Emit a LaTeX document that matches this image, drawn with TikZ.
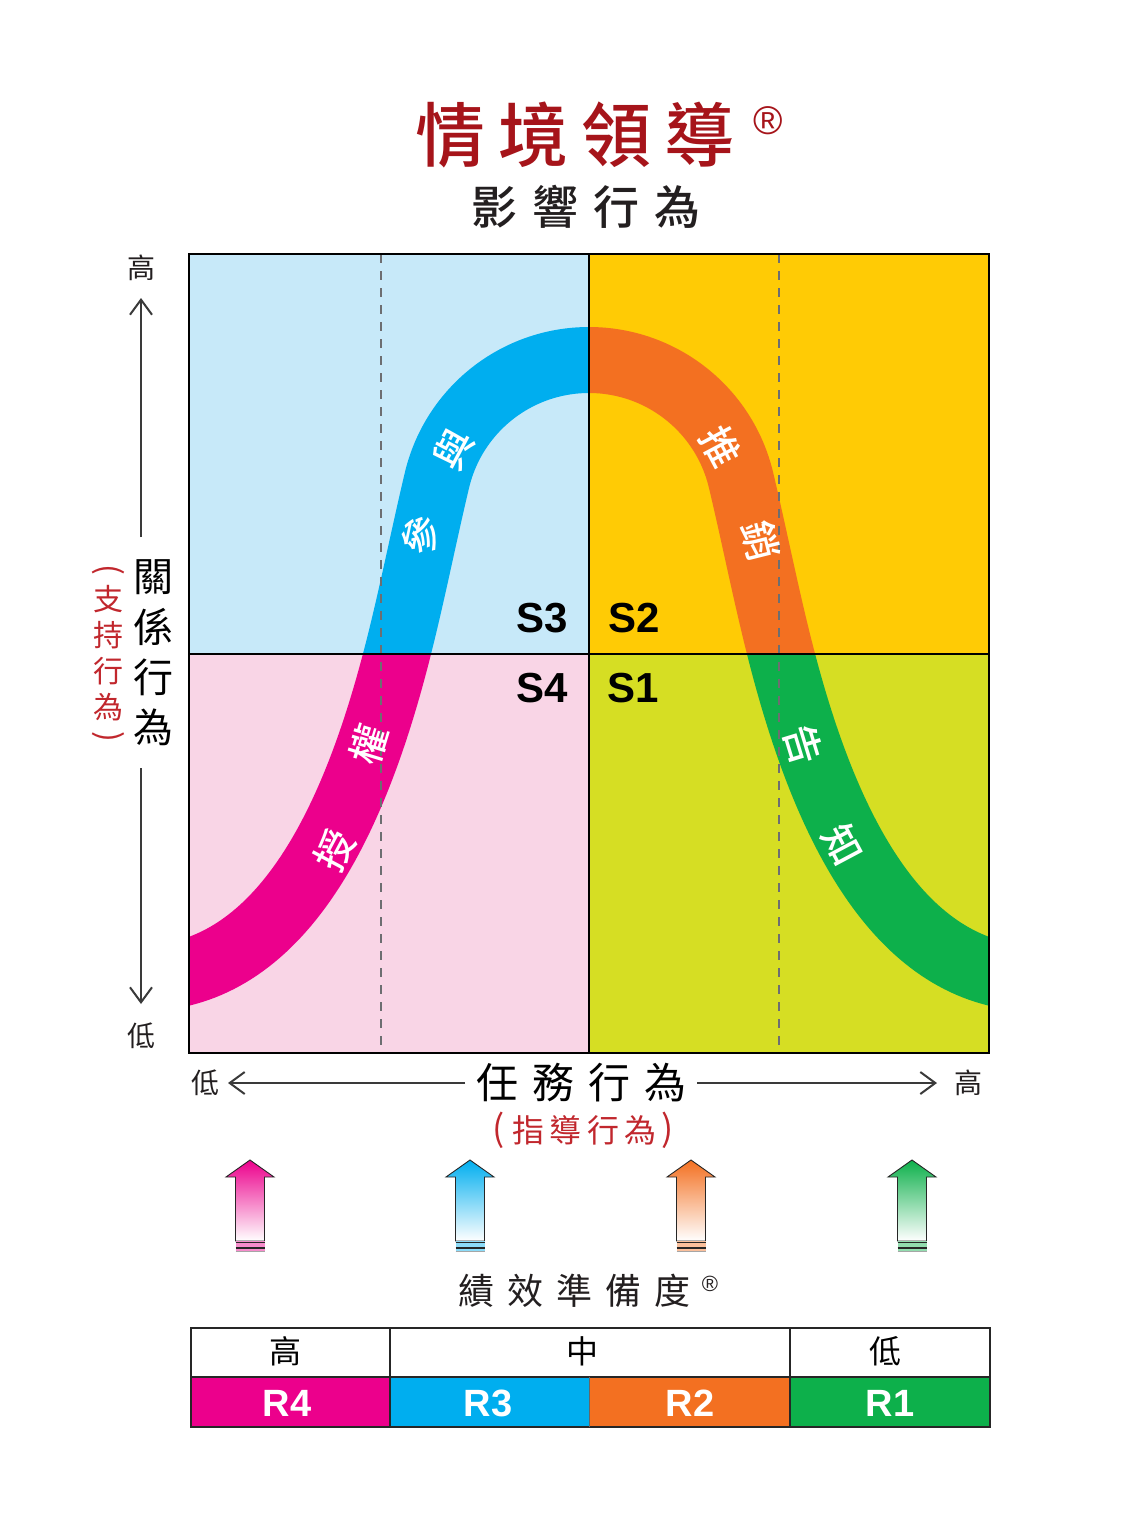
\documentclass[tikz,border=0pt]{standalone}
\usepackage{fontspec}
\setmainfont{Liberation Sans}
\newfontfamily\cjk{Noto Sans CJK TC}
\newfontfamily\cjkm{Noto Sans CJK TC Medium}
\usetikzlibrary{arrows.meta}
\definecolor{cMag}{HTML}{EC008C}
\definecolor{cBlue}{HTML}{00AEEF}
\definecolor{cOrange}{HTML}{F37021}
\definecolor{cGreen}{HTML}{0DB04B}
\definecolor{bgBlue}{HTML}{C7E9F9}
\definecolor{bgYellow}{HTML}{FFCB05}
\definecolor{bgPink}{HTML}{F9D5E6}
\definecolor{bgLime}{HTML}{D6DE23}
\definecolor{titleRed}{HTML}{A6141A}
\definecolor{subRed}{HTML}{C1272D}
\definecolor{ink}{HTML}{231F20}
\definecolor{dashGray}{HTML}{6D6E71}
\definecolor{axGray}{HTML}{3A3A3A}
\newcommand\bandpath[1]{\draw[band,#1] (175,975) .. controls (300,950) and (362,790) .. (397,654)
  .. controls (411.9,596) and (423.2,538) .. (437,480)
  .. controls (453.8,409.6) and (516.6,360) .. (589,360)
  .. controls (661.4,360) and (724.2,409.6) .. (741,480)
  .. controls (754.8,538) and (766.1,596) .. (781,654)
  .. controls (816,790) and (878,950) .. (1003,975);}
\newcommand\readyarrow[3]{% #1 x, #2 colour, #3 name
  \shade[top color=#2, bottom color=white, draw=black!85, line width=0.9pt]
    (#1,1160) -- ({#1+24},1177) -- ({#1+14.5},1177) -- ({#1+14.5},1241) -- ({#1-14.5},1241) -- ({#1-14.5},1177) -- ({#1-24},1177) -- cycle;
  \fill[#2!45] ({#1-14.5},1241) rectangle ({#1+14.5},1251);
  \draw[black!85, line width=1.3pt] ({#1-14.5},1242.5) -- ({#1+14.5},1242.5);
  \draw[black!85, line width=1.3pt] ({#1-14.5},1248) -- ({#1+14.5},1248);
  \draw[gray!70, line width=1.3pt] ({#1-14.5},1251.5) -- ({#1+14.5},1251.5);
  \coordinate (#3) at (#1,1200);
}
\begin{document}
\begin{tikzpicture}[x=1pt,y=-1pt,
  t/.style={inner sep=0pt, outer sep=0pt},
  band/.style={line width=66pt, line cap=butt},
  dashv/.style={draw=dashGray, line width=2pt, dash pattern=on 9pt off 8pt},
  quad/.style={draw=black, line width=2.5pt},
  axarr/.style={draw=axGray, line width=2pt, -{Straight Barb[length=15pt,width=22pt,line width=2pt]}},
  curvetxt/.style={t, text=white, font=\cjkm\fontsize{39}{39}\selectfont},
  slab/.style={t, text=black, font=\bfseries\fontsize{42}{42}\selectfont},
  rlab/.style={t, text=white, font=\bfseries\fontsize{38}{38}\selectfont},
  tabcjk/.style={t, text=black, font=\cjk\fontsize{32}{32}\selectfont},
  axend/.style={t, text=ink, font=\cjk\fontsize{28}{28}\selectfont},
]
\useasboundingbox (0,0) rectangle (1125,1535);
\fill[white] (0,0) rectangle (1125,1535);

% title
\foreach \c [count=\i from 0] in {情,境,領,導}
  \node[t, text=titleRed, font=\cjkm\fontsize{70}{70}\selectfont] (title\i) at ({450+83*\i},135) {\c};
\node[t, text=titleRed, font=\fontsize{40}{40}\selectfont] (reg) at (768,121) {®};
\foreach \c [count=\i from 0] in {影,響,行,為}
  \node[t, text=ink, font=\cjkm\fontsize{46}{46}\selectfont] (sub\i) at ({494+61*\i},207) {\c};

% quadrants
\fill[bgBlue] (189,254) rectangle (589,654);
\fill[bgYellow] (589,254) rectangle (989,654);
\fill[bgPink] (189,654) rectangle (589,1053);
\fill[bgLime] (589,654) rectangle (989,1053);

% curve
\begin{scope}\clip (189,254) rectangle (589,654); \bandpath{cBlue} \end{scope}
\begin{scope}\clip (589,254) rectangle (989,654); \bandpath{cOrange} \end{scope}
\begin{scope}\clip (189,654) rectangle (589,1053); \bandpath{cMag} \end{scope}
\begin{scope}\clip (589,654) rectangle (989,1053); \bandpath{cGreen} \end{scope}

% dashed guides
\coordinate (d1t) at (381,254); \coordinate (d1b) at (381,1053);
\coordinate (d2t) at (779,254); \coordinate (d2b) at (779,1053);
\draw[dashv] (d1t) -- (d1b);
\draw[dashv] (d2t) -- (d2b);

% grid
\coordinate (mt) at (589,254); \coordinate (mb) at (589,1053);
\coordinate (ml) at (189,654); \coordinate (mr) at (989,654);
\draw[quad] (mt) -- (mb);
\draw[quad] (ml) -- (mr);
\draw[quad] (189,254) rectangle (989,1053);

% curve words
\node[curvetxt, rotate=62] (w1) at (335,850) {授};
\node[curvetxt, rotate=73] (w2) at (369,745) {權};
\node[curvetxt, rotate=76] (w3) at (421,535) {參};
\node[curvetxt, rotate=62] (w4) at (454,449) {與};
\node[curvetxt, rotate=-62] (w5) at (721,447) {推};
\node[curvetxt, rotate=-76] (w6) at (761,541) {銷};
\node[curvetxt, rotate=-73] (w7) at (803,745) {告};
\node[curvetxt, rotate=-62] (w8) at (843,845) {知};

% S labels
\node[slab] (s3) at (542,618) {S3};
\node[slab] (s2) at (634,618) {S2};
\node[slab] (s4) at (542,688) {S4};
\node[slab] (s1) at (633,688) {S1};

% vertical axis
\node[axend] (vhi) at (141,268) {高};
\node[axend] (vlo) at (141,1036) {低};
\coordinate (va1) at (141,537); \coordinate (va2) at (141,298);
\coordinate (vb1) at (141,768); \coordinate (vb2) at (141,1004);
\draw[axarr] (va1) -- (va2);
\draw[axarr] (vb1) -- (vb2);
\foreach \c [count=\i from 0] in {關,係,行,為}
  \node[t, text=black, font=\cjk\fontsize{40}{40}\selectfont] (rel\i) at (153,{577+50*\i}) {\c};
\foreach \c [count=\i from 0] in {支,持,行,為}
  \node[t, text=subRed, font=\cjk\fontsize{30}{30}\selectfont] (sup\i) at (108,{599+36*\i}) {\c};
\node[t, text=subRed, font=\cjk\fontsize{32}{32}\selectfont, rotate=-90] (supl) at (108,570) {(};
\node[t, text=subRed, font=\cjk\fontsize{32}{32}\selectfont, rotate=-90] (supr) at (108,737) {)};

% horizontal axis
\node[axend] (hlo) at (205,1083) {低};
\node[axend] (hhi) at (968,1083) {高};
\coordinate (ha1) at (465,1083); \coordinate (ha2) at (228,1083);
\coordinate (hb1) at (697,1083); \coordinate (hb2) at (937,1083);
\draw[axarr] (ha1) -- (ha2);
\draw[axarr] (hb1) -- (hb2);
\foreach \c [count=\i from 0] in {任,務,行,為}
  \node[t, text=black, font=\cjk\fontsize{42}{42}\selectfont] (task\i) at ({497+56*\i},1083) {\c};
\foreach \c [count=\i from 0] in {指,導,行,為}
  \node[t, text=subRed, font=\cjk\fontsize{32}{32}\selectfont] (dir\i) at ({528+37.5*\i},1130) {\c};
\node[t, text=subRed, font=\cjk\fontsize{36}{36}\selectfont] (dirl) at (499,1130) {(};
\node[t, text=subRed, font=\cjk\fontsize{36}{36}\selectfont] (dirr) at (668,1130) {)};

% readiness arrows
\readyarrow{250}{cMag}{a4}
\readyarrow{470}{cBlue}{a3}
\readyarrow{691}{cOrange}{a2}
\readyarrow{912}{cGreen}{a1}

\foreach \c [count=\i from 0] in {績,效,準,備,度}
  \node[t, text=ink, font=\cjk\fontsize{36}{36}\selectfont] (perf\i) at ({476+49*\i},1291) {\c};
\node[t, text=ink, font=\fontsize{22}{22}\selectfont] (preg) at (710,1284) {®};

% table
\fill[cMag] (191,1377) rectangle (390,1427);
\fill[cBlue] (390,1377) rectangle (589,1427);
\fill[cOrange] (589,1377) rectangle (790,1427);
\fill[cGreen] (790,1377) rectangle (990,1427);
\draw[black!85, line width=1.5pt] (191,1328) rectangle (990,1427);
\draw[black!85, line width=1.5pt] (191,1377) -- (990,1377);
\draw[black!85, line width=1.2pt] (390,1328) -- (390,1427);
\draw[black!85, line width=1.2pt] (790,1328) -- (790,1427);
\draw[black!60, line width=0.8pt] (589,1377) -- (589,1427);
\node[tabcjk] (th) at (285,1351) {高};
\node[tabcjk] (tm) at (582,1351) {中};
\node[tabcjk] (tl) at (885,1351) {低};
\node[rlab] (r4) at (287,1403) {R4};
\node[rlab] (r3) at (488,1403) {R3};
\node[rlab] (r2) at (690,1403) {R2};
\node[rlab] (r1) at (890,1403) {R1};
\end{tikzpicture}
\end{document}
